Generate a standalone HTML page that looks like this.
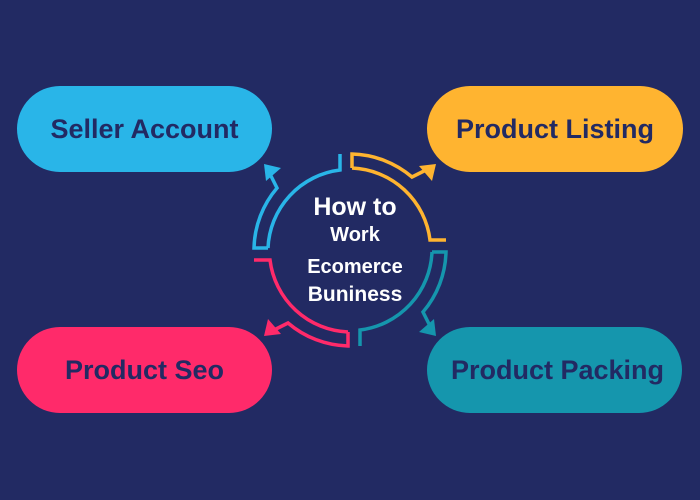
<!DOCTYPE html>
<html><head><meta charset="utf-8"><style>
html,body{margin:0;padding:0}
body{width:700px;height:500px;background:#222a63;position:relative;overflow:hidden;font-family:"Liberation Sans",sans-serif}
.p{position:absolute;height:86px;border-radius:43px;color:#222a63;font-weight:bold;font-size:27px;line-height:86px;white-space:nowrap}
.c{position:absolute;left:255px;width:200px;text-align:center;color:#fff;font-weight:bold}
</style></head><body>
<div class="p" style="left:17px;top:86px;width:255px;background:#29b5e8;text-align:center">Seller Account</div>
<div class="p" style="left:427px;top:86px;width:256px;background:#ffb430;text-align:center">Product Listing</div>
<div class="p" style="left:17px;top:327px;width:255px;background:#ff2a6a;text-align:center">Product Seo</div>
<div class="p" style="left:427px;top:327px;width:255px;background:#1596ad;padding-left:24px;box-sizing:border-box">Product Packing</div>
<svg width="700" height="500" style="position:absolute;left:0;top:0">
<defs>
<g id="q">
<path d="M2,-82 L2,-96 A96,96 0 0 1 62,-73 L76,-80 M2,-82 A82,82 0 0 1 80,-10 L96,-10" fill="none" stroke-width="3.5" stroke-linejoin="miter"/>
<path d="M86,-86 L69,-84 L82,-69 Z" stroke="none"/>
</g>
</defs>
<g transform="translate(350,250)">
<use href="#q" stroke="#ffb430" fill="#ffb430"/>
<use href="#q" stroke="#1596ad" fill="#1596ad" transform="rotate(90)"/>
<use href="#q" stroke="#ff2a6a" fill="#ff2a6a" transform="rotate(180)"/>
<use href="#q" stroke="#29b5e8" fill="#29b5e8" transform="rotate(270)"/>
</g>
</svg>
<div class="c" style="top:193px;font-size:25px">How to</div>
<div class="c" style="top:224px;font-size:20px">Work</div>
<div class="c" style="top:256px;font-size:20px">Ecomerce</div>
<div class="c" style="top:283px;font-size:21px">Buniness</div>
</body></html>
